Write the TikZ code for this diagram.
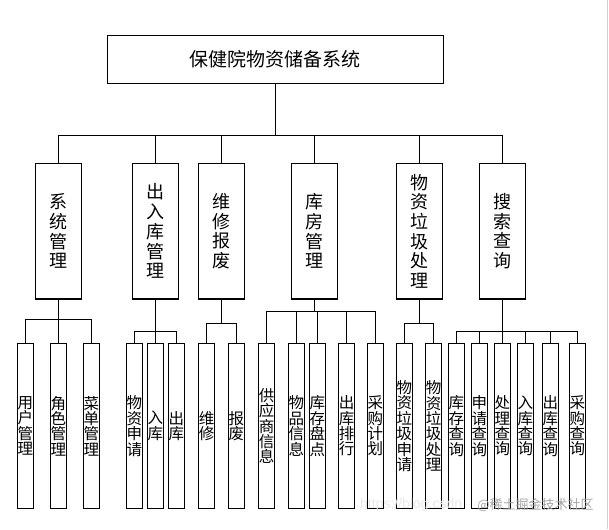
\documentclass[tikz,border=0pt]{standalone}
\usepackage{fontspec}
\newfontfamily\cjk{Noto Sans CJK SC}
\newfontfamily\latinwm{Liberation Sans}
\begin{document}
\begin{tikzpicture}[x=1pt,y=-1pt,
  lw/.style={line width=1.2pt},
  titlebox/.style={draw,lw,rectangle,inner sep=0pt,minimum width=336pt,minimum height=48pt,font=\cjk\fontsize{19}{20}\selectfont},
  midbox/.style={draw,lw,rectangle,inner sep=0pt,minimum width=46pt,minimum height=135.7pt,align=center,font=\cjk\fontsize{18}{19.7}\selectfont},
  leafbox/.style={draw,lw,rectangle,inner sep=0pt,minimum width=16pt,minimum height=165.5pt,align=center,font=\cjk\fontsize{15.5}{15.4}\selectfont},
  conn/.style={lw}]
\useasboundingbox (0,0) rectangle (609,529);
\fill[white] (0,0) rectangle (609,529);
\draw[gray!35,line width=1pt] (607.3,0) -- (607.3,529);

% title
\node[titlebox] (T) at (275.3,59.3) {保健院物资储备系统};

% level 2
\node[midbox] (A) at (58.5,231.2) {系\\统\\管\\理};
\node[midbox] (B) at (155.5,231.2) {出\\入\\库\\管\\理};
\node[midbox] (C) at (221.3,231.2) {维\\修\\报\\废};
\node[midbox] (D) at (314.3,231.2) {库\\房\\管\\理};
\node[midbox] (E) at (419.7,231.2) {物\\资\\垃\\圾\\处\\理};
\node[midbox] (F) at (502.3,231.2) {搜\\索\\查\\询};

% level 3
\node[leafbox] (a1) at (25.3,426) {用\\户\\管\\理};
\node[leafbox] (a2) at (58.3,426) {角\\色\\管\\理};
\node[leafbox] (a3) at (91.3,426) {菜\\单\\管\\理};
\node[leafbox] (b1) at (134.3,426) {物\\资\\申\\请};
\node[leafbox] (b2) at (155.3,426) {入\\库};
\node[leafbox] (b3) at (176.3,426) {出\\库};
\node[leafbox] (c1) at (206.5,426) {维\\修};
\node[leafbox] (c2) at (236.3,426) {报\\废};
\node[leafbox] (d1) at (266.7,426) {供\\应\\商\\信\\息};
\node[leafbox] (d2) at (296.3,426) {物\\品\\信\\息};
\node[leafbox] (d3) at (317.3,426) {库\\存\\盘\\点};
\node[leafbox] (d4) at (346.7,426) {出\\库\\排\\行};
\node[leafbox] (d5) at (375.3,426) {采\\购\\计\\划};
\node[leafbox] (e1) at (404.3,426) {物\\资\\垃\\圾\\申\\请};
\node[leafbox] (e2) at (433.7,426) {物\\资\\垃\\圾\\处\\理};
\node[leafbox] (f1) at (456.3,426) {库\\存\\查\\询};
\node[leafbox] (f2) at (479.3,426) {申\\请\\查\\询};
\node[leafbox] (f3) at (502.3,426) {处\\理\\查\\询};
\node[leafbox] (f4) at (525.3,426) {入\\库\\查\\询};
\node[leafbox] (f5) at (550.3,426) {出\\库\\查\\询};
\node[leafbox] (f6) at (577.3,426) {采\\购\\查\\询};

% bus levels
\coordinate (busT) at (0,135.3);
\coordinate (busA) at (0,319.3);
\coordinate (busB) at (0,331.7);
\coordinate (busC) at (0,323.3);
\coordinate (busD) at (0,311.7);
\coordinate (busE) at (0,323.3);
\coordinate (busF) at (0,331.7);

\foreach \c in {A,B,C,D,E,F}
  \draw[conn] (T.south) -- (T.south |- busT) -| (\c.north);
\foreach \c in {a1,a2,a3}
  \draw[conn] (A.south) -- (A.south |- busA) -| (\c.north);
\foreach \c in {b1,b2,b3}
  \draw[conn] (B.south) -- (B.south |- busB) -| (\c.north);
\foreach \c in {c1,c2}
  \draw[conn] (C.south) -- (C.south |- busC) -| (\c.north);
\foreach \c in {d1,d2,d3,d4,d5}
  \draw[conn] (D.south) -- (D.south |- busD) -| (\c.north);
\foreach \c in {e1,e2}
  \draw[conn] (E.south) -- (E.south |- busE) -| (\c.north);
\foreach \c in {f1,f2,f3,f4,f5,f6}
  \draw[conn] (F.south) -- (F.south |- busF) -| (\c.north);

% watermark
\node[anchor=west,text=gray!18,font=\latinwm\fontsize{14}{14}\selectfont,inner sep=0pt] (wm1) at (360,505) {https://blog.csdn};
\node[text=gray!70,font=\cjk\fontsize{13}{13}\selectfont,inner sep=0pt] (wm2) at (535.5,505) {@稀土掘金技术社区};
\end{tikzpicture}
\end{document}
